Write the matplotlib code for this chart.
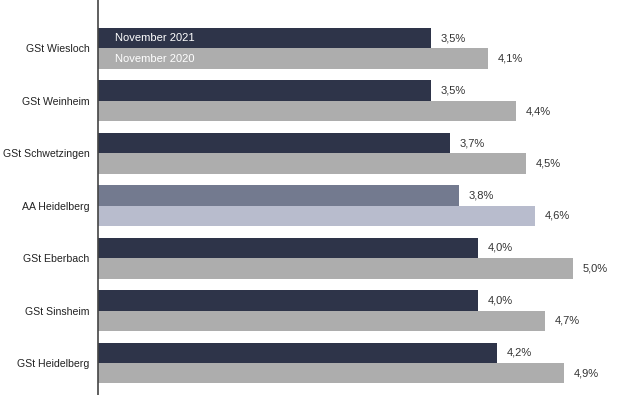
import matplotlib.pyplot as plt
import numpy as np

plt.rcParams['font.family'] = ['Liberation Sans', 'DejaVu Sans']

categories = ['GSt Wiesloch', 'GSt Weinheim', 'GSt Schwetzingen', 'AA Heidelberg',
              'GSt Eberbach', 'GSt Sinsheim', 'GSt Heidelberg']
nov_2021 = [3.5, 3.5, 3.7, 3.8, 4.0, 4.0, 4.2]
nov_2020 = [4.1, 4.4, 4.5, 4.6, 5.0, 4.7, 4.9]
series_labels = ['November 2021', 'November 2020']

dark, grey = '#2e3449', '#adadad'
hl_dark, hl_light = '#737a8f', '#b8bccd'

fig = plt.figure(figsize=(6.22, 3.95), dpi=100)
ax = fig.add_axes([98 / 622, 0.0, 1 - 98 / 622, 1.0])

y = np.arange(len(categories))
h = 0.39
c1 = [hl_dark if c == 'AA Heidelberg' else dark for c in categories]
c2 = [hl_light if c == 'AA Heidelberg' else grey for c in categories]
b1 = ax.barh(y - h / 2, nov_2021, height=h, color=c1)
b2 = ax.barh(y + h / 2, nov_2020, height=h, color=c2)

for bars in (b1, b2):
    for bar in bars:
        v = bar.get_width()
        ax.text(v + 0.1, bar.get_y() + bar.get_height() / 2,
                f'{v:.1f}%'.replace('.', ','), va='center', ha='left',
                fontsize=8, color='#333333')

ax.text(0.18, -h / 2, series_labels[0], va='center', ha='left', fontsize=8, color='white')
ax.text(0.18, h / 2, series_labels[1], va='center', ha='left', fontsize=8, color='white')

ax.set_yticks(y)
ax.set_yticklabels(categories, fontsize=7.6, color='#222222')
ax.tick_params(axis='y', length=0, pad=6)
ax.set_xticks([])
ax.set_xlim(0, 5.51)
ax.set_ylim(6.61, -0.924)
for s in ['top', 'right', 'bottom']:
    ax.spines[s].set_visible(False)
ax.spines['left'].set_color('#444444')
ax.spines['left'].set_linewidth(1.2)

fig.savefig('out.png', dpi=100)
